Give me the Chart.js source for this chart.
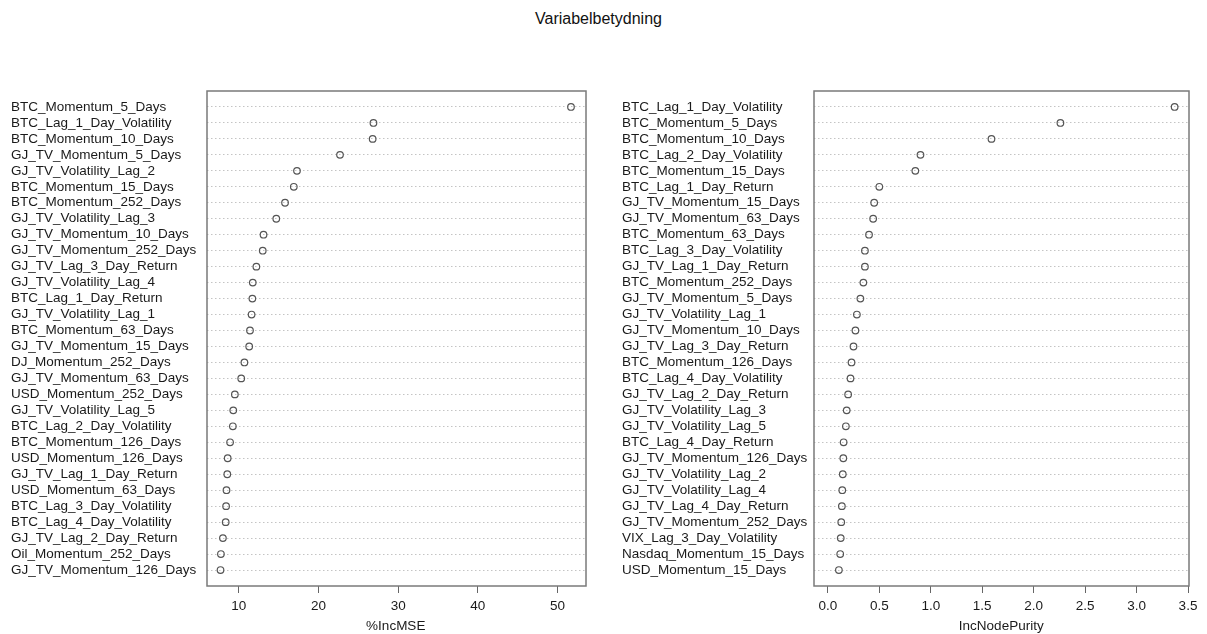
<!DOCTYPE html>
<html>
<head>
<meta charset="utf-8">
<script src="https://cdn.jsdelivr.net/npm/chart.js@4"></script>
<style>
  html, body { margin: 0; padding: 0; background: #fff; }
  body { width: 1207px; height: 634px; position: relative; overflow: hidden; font-family: "Liberation Sans", Arial, sans-serif; }
  #title { position: absolute; top: 10px; left: 0; width: 1197px; text-align: center; font-size: 16px; color: #111; }
  #c1 { position: absolute; left: 0; top: 0; }
  #c2 { position: absolute; left: 603px; top: 0; }
</style>
</head>
<body>
<div id="title">Variabelbetydning</div>
<canvas id="c1" width="603" height="634"></canvas>
<canvas id="c2" width="604" height="634"></canvas>
<script>
// %IncMSE panel
const mseNames = [
  "BTC_Momentum_5_Days", "BTC_Lag_1_Day_Volatility", "BTC_Momentum_10_Days", "GJ_TV_Momentum_5_Days",
  "GJ_TV_Volatility_Lag_2", "BTC_Momentum_15_Days", "BTC_Momentum_252_Days", "GJ_TV_Volatility_Lag_3",
  "GJ_TV_Momentum_10_Days", "GJ_TV_Momentum_252_Days", "GJ_TV_Lag_3_Day_Return", "GJ_TV_Volatility_Lag_4",
  "BTC_Lag_1_Day_Return", "GJ_TV_Volatility_Lag_1", "BTC_Momentum_63_Days", "GJ_TV_Momentum_15_Days",
  "DJ_Momentum_252_Days", "GJ_TV_Momentum_63_Days", "USD_Momentum_252_Days", "GJ_TV_Volatility_Lag_5",
  "BTC_Lag_2_Day_Volatility", "BTC_Momentum_126_Days", "USD_Momentum_126_Days", "GJ_TV_Lag_1_Day_Return",
  "USD_Momentum_63_Days", "BTC_Lag_3_Day_Volatility", "BTC_Lag_4_Day_Volatility", "GJ_TV_Lag_2_Day_Return",
  "Oil_Momentum_252_Days", "GJ_TV_Momentum_126_Days"
];
const mseValues = [
  51.7, 26.9, 26.8, 22.7, 17.3, 16.9, 15.8, 14.7, 13.1, 13.0,
  12.2, 11.75, 11.7, 11.6, 11.4, 11.3, 10.7, 10.3, 9.5, 9.3,
  9.25, 8.9, 8.6, 8.55, 8.45, 8.4, 8.35, 8.0, 7.75, 7.7
];
const mseTicks = [10, 20, 30, 40, 50];

// IncNodePurity panel
const purityNames = [
  "BTC_Lag_1_Day_Volatility", "BTC_Momentum_5_Days", "BTC_Momentum_10_Days", "BTC_Lag_2_Day_Volatility",
  "BTC_Momentum_15_Days", "BTC_Lag_1_Day_Return", "GJ_TV_Momentum_15_Days", "GJ_TV_Momentum_63_Days",
  "BTC_Momentum_63_Days", "BTC_Lag_3_Day_Volatility", "GJ_TV_Lag_1_Day_Return", "BTC_Momentum_252_Days",
  "GJ_TV_Momentum_5_Days", "GJ_TV_Volatility_Lag_1", "GJ_TV_Momentum_10_Days", "GJ_TV_Lag_3_Day_Return",
  "BTC_Momentum_126_Days", "BTC_Lag_4_Day_Volatility", "GJ_TV_Lag_2_Day_Return", "GJ_TV_Volatility_Lag_3",
  "GJ_TV_Volatility_Lag_5", "BTC_Lag_4_Day_Return", "GJ_TV_Momentum_126_Days", "GJ_TV_Volatility_Lag_2",
  "GJ_TV_Volatility_Lag_4", "GJ_TV_Lag_4_Day_Return", "GJ_TV_Momentum_252_Days", "VIX_Lag_3_Day_Volatility",
  "Nasdaq_Momentum_15_Days", "USD_Momentum_15_Days"
];
const purityValues = [
  3.37, 2.26, 1.59, 0.90, 0.85, 0.50, 0.45, 0.44, 0.40, 0.36,
  0.36, 0.345, 0.316, 0.282, 0.268, 0.249, 0.23, 0.22, 0.197, 0.183,
  0.175, 0.153, 0.15, 0.145, 0.14, 0.136, 0.13, 0.125, 0.12, 0.107
];
const purityTicks = [0, 0.5, 1, 1.5, 2, 2.5, 3, 3.5];

const FONT = { family: '"Liberation Sans", Arial, sans-serif', size: 13.5 };
const TEXT = "#1a1a1a";

// box round the plot area, like R's dotchart
const boxPlugin = {
  id: "box",
  beforeDatasetsDraw(chart) {
    const { ctx, chartArea: a } = chart;
    ctx.save();
    ctx.strokeStyle = "#7a7a7a";
    ctx.lineWidth = 1.5;
    ctx.strokeRect(Math.round(a.left), Math.round(a.top),
                   Math.round(a.right - a.left), Math.round(a.bottom - a.top));
    ctx.restore();
  }
};

function dotChart(id, names, values, xTicks, xTitle, fromZero, decimals, padLeft, axisWidth, padRight) {
  // R extends the range by 4% on each side
  const lo = fromZero ? 0 : Math.min(...values);
  const hi = Math.max(...values);
  const ext = (hi - lo) * 0.04;

  return new Chart(document.getElementById(id), {
    type: "scatter",
    data: {
      datasets: [{
        data: values.map((v, i) => ({ x: v, y: i + 1 })),
        pointRadius: 3.3,
        pointBorderWidth: 1.2,
        pointBorderColor: "#555",
        pointBackgroundColor: "rgba(0,0,0,0)"
      }]
    },
    options: {
      responsive: false,
      animation: false,
      devicePixelRatio: 1,
      layout: { padding: { left: padLeft, right: padRight, top: 91, bottom: 0 } },
      plugins: { legend: { display: false }, tooltip: { enabled: false } },
      scales: {
        x: {
          type: "linear",
          min: lo - ext,
          max: hi + ext,
          afterBuildTicks: s => { s.ticks = xTicks.map(v => ({ value: v })); },
          afterFit: s => { s.height = 48; },
          border: { display: false },
          grid: { drawOnChartArea: false, drawTicks: true, tickLength: 7, color: "#666" },
          ticks: {
            font: FONT, color: TEXT, padding: 5, maxRotation: 0,
            callback: v => v.toFixed(decimals)
          },
          title: { display: true, text: xTitle, font: FONT, color: TEXT, padding: { top: 0, bottom: 0 } }
        },
        y: {
          type: "linear",
          min: 0,
          max: names.length + 1,
          reverse: true,
          afterBuildTicks: s => { s.ticks = names.map((_, i) => ({ value: i + 1 })); },
          afterFit: s => { s.width = axisWidth; },
          border: { display: false, dash: [1.5, 2.5] },   // dotted row lines
          grid: { drawTicks: false, color: "#c4c4c4", lineWidth: 1 },
          ticks: {
            font: FONT, color: TEXT, crossAlign: "far", autoSkip: false, padding: 0,
            callback: (v, i) => names[i]
          }
        }
      }
    },
    plugins: [boxPlugin]
  });
}

Chart.defaults.font.family = FONT.family;
dotChart("c1", mseNames, mseValues, mseTicks, "%IncMSE", false, 0, 11, 195.5, 18);
dotChart("c2", purityNames, purityValues, purityTicks, "IncNodePurity", true, 1, 19, 192, 18.5);
</script>
</body>
</html>
